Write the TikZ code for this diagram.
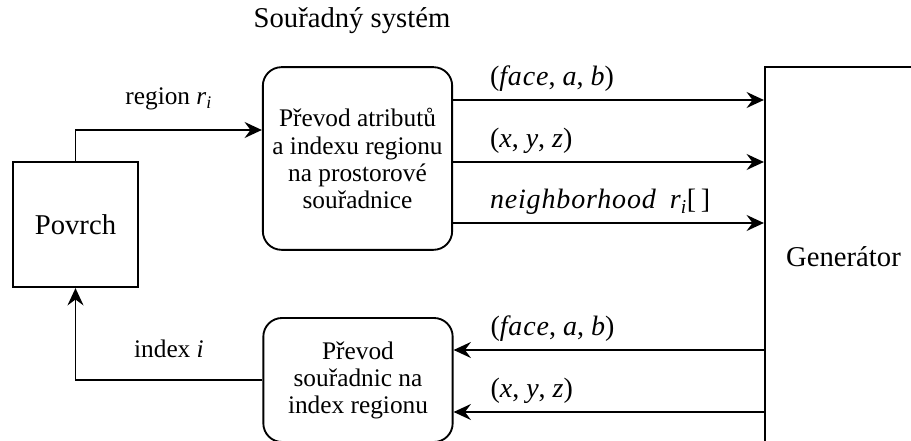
\documentclass[tikz,border=0pt]{standalone}
\usepackage{fontspec}
\setmainfont{Liberation Serif}
\usetikzlibrary{arrows.meta}
\usetikzlibrary{positioning}

\tikzset{
    box/.style={draw, line width=1.4pt, align=center, inner sep=0pt},
    roundbox/.style={box, rounded corners=14pt},
    big/.style={font=\fontsize{21.5}{24}\selectfont},
    arr/.style={line width=1.4pt, -{Stealth[length=13pt, width=12pt, inset=4.5pt]}},
    lbl/.style={anchor=base west, inner sep=0pt, xshift=27pt, yshift=10.5pt,
        font=\fontsize{21}{24}\selectfont},
}

\newcommand{\mi}[1]{{\itshape\addfontfeature{LetterSpace=3}#1}}
\newcommand{\ri}{\textit{r}\textsubscript{\textit{i}}}

\begin{document}
\begin{tikzpicture}[x=0.75pt, y=-0.75pt, font=\fontsize{19}{20.3}\selectfont]
    \clip (0,0) rectangle (911,441);

    % Blocks
    \node[box, big, minimum width=94pt, minimum height=94pt] (povrch) at (75.5,224.5) {Povrch};
    \node[roundbox, minimum width=142pt, minimum height=137pt] (prevodA) at (357.5,158.5)
        {Převod atributů\\a indexu regionu\\na prostorové\\souřadnice};
    \node[roundbox, minimum width=142pt, minimum height=93pt] (prevodB) at (358,380)
        {Převod\\souřadnic na\\index regionu};
    \node[box, big, minimum width=118pt, minimum height=285pt] (generator) at (843.5,257) {Generátor};
    \node[big] (title) at (352,21) {Souřadný systém};

    % Lanes
    \coordinate (lane0) at (0,130);
    \coordinate (lane1) at (0,100);
    \coordinate (lane2) at (0,162);
    \coordinate (lane3) at (0,223);
    \coordinate (lane4) at (0,350);
    \coordinate (lane5) at (0,412);

    % Connectors
    \draw[arr] (povrch.north) |- node[pos=0.75, anchor=base, yshift=19pt] {region \ri} (prevodA.west |- lane0);
    \draw[arr] (prevodA.east |- lane1) -- (generator.west |- lane1)
        node[at start, lbl] {(\mi{face}, \mi{a}, \mi{b})};
    \draw[arr] (prevodA.east |- lane2) -- (generator.west |- lane2)
        node[at start, lbl] {(\mi{x}, \mi{y}, \mi{z})};
    \draw[arr] (prevodA.east |- lane3) -- (generator.west |- lane3)
        node[at start, lbl] {\mi{neighborhood}\enspace\ri[\,]};
    \draw[arr] (generator.west |- lane4) -- (prevodB.east |- lane4)
        node[at end, lbl] {(\mi{face}, \mi{a}, \mi{b})};
    \draw[arr] (generator.west |- lane5) -- (prevodB.east |- lane5)
        node[at end, lbl] {(\mi{x}, \mi{y}, \mi{z})};
    \draw[arr] (prevodB.west) -| node[pos=0.25, anchor=base, yshift=17pt] {index \textit{i}} (povrch.south);
\end{tikzpicture}
\end{document}
